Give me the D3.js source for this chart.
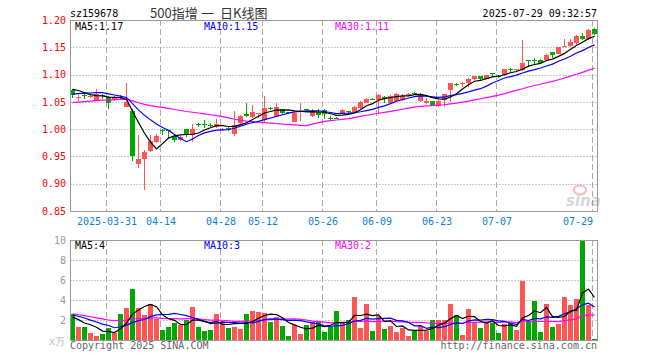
<!DOCTYPE html>
<html>
<head>
<meta charset="utf-8">
<script src="https://cdn.jsdelivr.net/npm/d3@7"></script>
<style>
body { margin: 0; background: #fff; }
svg { display: block; }
text { font-family: "DejaVu Sans Mono", monospace; font-size: 10px; }
</style>
</head>
<body>
<svg></svg>
<script>
// trading days shown, one candle each
var dates = [
    "2025-03-21",
    "2025-03-24", "2025-03-25", "2025-03-26", "2025-03-27", "2025-03-28",
    "2025-03-31", "2025-04-01", "2025-04-02", "2025-04-03",
    "2025-04-07", "2025-04-08", "2025-04-09", "2025-04-10", "2025-04-11",
    "2025-04-14", "2025-04-15", "2025-04-16", "2025-04-17", "2025-04-18",
    "2025-04-21", "2025-04-22", "2025-04-23", "2025-04-24", "2025-04-25",
    "2025-04-28", "2025-04-29", "2025-04-30",
    "2025-05-06", "2025-05-07", "2025-05-08", "2025-05-09",
    "2025-05-12", "2025-05-13", "2025-05-14", "2025-05-15", "2025-05-16",
    "2025-05-19", "2025-05-20", "2025-05-21", "2025-05-22", "2025-05-23",
    "2025-05-26", "2025-05-27", "2025-05-28", "2025-05-29", "2025-05-30",
    "2025-06-03", "2025-06-04", "2025-06-05", "2025-06-06",
    "2025-06-09", "2025-06-10", "2025-06-11", "2025-06-12", "2025-06-13",
    "2025-06-16", "2025-06-17", "2025-06-18", "2025-06-19", "2025-06-20",
    "2025-06-23", "2025-06-24", "2025-06-25", "2025-06-26", "2025-06-27",
    "2025-06-30", "2025-07-01", "2025-07-02", "2025-07-03", "2025-07-04",
    "2025-07-07", "2025-07-08", "2025-07-09", "2025-07-10", "2025-07-11",
    "2025-07-14", "2025-07-15", "2025-07-16", "2025-07-17", "2025-07-18",
    "2025-07-21", "2025-07-22", "2025-07-23", "2025-07-24", "2025-07-25",
    "2025-07-28", "2025-07-29"
];

var opens = [
    1.072, 1.058, 1.063, 1.058, 1.052, 1.062, 1.058, 1.054, 1.059, 1.041,
    1.033, 0.937, 0.946, 0.960, 0.976, 0.999, 0.998, 0.988, 0.980, 1.000,
    0.990, 1.009, 1.009, 1.008, 1.004, 0.998, 1.002, 0.991, 1.012, 1.027,
    1.022, 1.028, 1.017, 1.039, 1.024, 1.036, 1.031, 1.014, 1.033, 1.036,
    1.024, 1.032, 1.035, 1.021, 1.021, 1.028, 1.033, 1.032, 1.038, 1.048,
    1.056, 1.053, 1.059, 1.048, 1.052, 1.053, 1.063, 1.067, 1.051, 1.047,
    1.051, 1.042, 1.053, 1.072, 1.083, 1.084, 1.085, 1.091, 1.097, 1.092,
    1.102, 1.098, 1.099, 1.111, 1.109, 1.108, 1.126, 1.126, 1.127, 1.127,
    1.141, 1.138, 1.151, 1.152, 1.158, 1.171, 1.165, 1.183
];
var highs = [
    1.074, 1.063, 1.066, 1.062, 1.073, 1.064, 1.060, 1.060, 1.062, 1.085,
    1.036, 0.989, 0.962, 0.990, 0.992, 1.000, 0.999, 0.990, 0.987, 1.001,
    1.009, 1.011, 1.017, 1.011, 1.018, 1.002, 1.004, 1.034, 1.026, 1.048,
    1.044, 1.030, 1.061, 1.041, 1.048, 1.037, 1.032, 1.031, 1.048, 1.037,
    1.036, 1.036, 1.036, 1.024, 1.023, 1.037, 1.034, 1.042, 1.051, 1.057,
    1.057, 1.064, 1.060, 1.063, 1.066, 1.065, 1.067, 1.068, 1.067, 1.057,
    1.052, 1.053, 1.065, 1.085, 1.085, 1.087, 1.093, 1.098, 1.098, 1.100,
    1.103, 1.099, 1.111, 1.112, 1.111, 1.163, 1.127, 1.130, 1.128, 1.137,
    1.142, 1.151, 1.166, 1.166, 1.172, 1.176, 1.183, 1.185
];
var lows = [
    1.057, 1.051, 1.056, 1.057, 1.051, 1.055, 1.037, 1.052, 1.055, 1.040,
    0.942, 0.929, 0.888, 0.959, 0.975, 0.989, 0.984, 0.977, 0.979, 0.985,
    0.976, 1.004, 1.002, 1.004, 1.003, 0.996, 0.997, 0.988, 1.010, 1.022,
    1.021, 1.021, 1.012, 1.035, 1.022, 1.027, 1.028, 1.013, 1.015, 1.032,
    1.023, 1.020, 1.019, 1.017, 1.018, 1.027, 1.028, 1.031, 1.037, 1.047,
    1.053, 1.028, 1.048, 1.047, 1.051, 1.052, 1.061, 1.062, 1.050, 1.046,
    1.042, 1.040, 1.040, 1.050, 1.079, 1.078, 1.078, 1.090, 1.089, 1.091,
    1.095, 1.094, 1.098, 1.104, 1.107, 1.107, 1.113, 1.118, 1.119, 1.126,
    1.131, 1.137, 1.150, 1.151, 1.152, 1.164, 1.164, 1.173
];
var closes = [
    1.063, 1.059, 1.060, 1.061, 1.064, 1.060, 1.048, 1.058, 1.058, 1.050,
    0.950, 0.945, 0.959, 0.978, 0.987, 0.998, 0.996, 0.980, 0.986, 0.991,
    1.000, 1.008, 1.007, 1.007, 1.010, 1.000, 1.000, 1.008, 1.024, 1.025,
    1.032, 1.029, 1.038, 1.038, 1.040, 1.030, 1.030, 1.030, 1.034, 1.035,
    1.032, 1.026, 1.028, 1.020, 1.020, 1.035, 1.032, 1.041, 1.050, 1.056,
    1.055, 1.063, 1.055, 1.061, 1.064, 1.061, 1.064, 1.066, 1.064, 1.052,
    1.043, 1.052, 1.064, 1.084, 1.082, 1.085, 1.091, 1.097, 1.091, 1.099,
    1.101, 1.097, 1.110, 1.110, 1.110, 1.122, 1.125, 1.125, 1.121, 1.136,
    1.135, 1.150, 1.152, 1.159, 1.171, 1.165, 1.182, 1.174
];
// volume, in 10k
var volumes = [
    2.60, 1.33, 1.33, 0.73, 0.43, 0.63, 1.23, 0.73, 2.63, 3.23,
    5.13, 3.23, 2.53, 3.63, 2.13, 1.03, 1.33, 1.73, 1.53, 2.03,
    3.33, 1.33, 0.93, 1.03, 2.63, 1.93, 1.23, 1.33, 1.13, 2.63,
    2.93, 2.83, 2.73, 1.83, 2.33, 1.43, 0.43, 1.53, 0.63, 1.53,
    1.83, 1.83, 0.83, 1.33, 2.93, 1.73, 2.03, 4.33, 1.23, 3.63,
    0.93, 2.43, 1.13, 1.43, 0.83, 1.23, 0.43, 0.93, 1.43, 0.93,
    2.03, 2.03, 2.03, 3.63, 2.53, 0.53, 3.13, 1.83, 1.23, 1.73,
    1.73, 0.73, 1.63, 1.73, 1.03, 5.93, 1.93, 3.93, 0.83, 3.63,
    1.33, 1.63, 4.33, 3.53, 4.13, 9.93, 3.53, 0.13
];
// sessions before the window, only feed the moving averages
var earlyCloses = [
    1.032, 1.035, 1.030, 1.038, 1.036, 1.041, 1.039, 1.044, 1.042, 1.040,
    1.046, 1.043, 1.048, 1.045, 1.042, 1.047, 1.044, 1.040, 1.045, 1.043,
    1.048, 1.052, 1.058, 1.056, 1.061, 1.070, 1.080, 1.078, 1.074
];
var earlyVolumes = [
    4.5, 3.8, 4.2, 3.6, 4.0, 4.5, 2.3, 1.9, 2.4, 2.0,
    1.8, 2.2, 2.5, 1.9, 2.1, 2.3, 1.8, 2.0, 2.2, 1.9,
    2.5, 3.1, 2.8, 2.4, 2.7, 2.6, 3.0, 1.6, 1.64
];

var priceTicks = [0.85, 0.90, 0.95, 1.00, 1.05, 1.10, 1.15, 1.20];
var volumeTicks = [2, 4, 6, 8, 10];
var tickDates = ["2025-03-31", "2025-04-14", "2025-04-28", "2025-05-12", "2025-05-26",
    "2025-06-09", "2025-06-23", "2025-07-07", "2025-07-29"];

var width = 660,
    height = 360,
    plotLeft = 70.5,
    plotRight = 597.5,
    red = "#ff5555",
    green = "#00a800";

var svg = d3.select("svg")
    .attr("width", width)
    .attr("height", height);

var x = d3.scaleLinear().domain([0, dates.length - 1]).range([72.5, 594.5]);
var y = d3.scaleLinear().domain([0.85, 1.20]).range([211, 20]);
var yv = d3.scaleLinear().domain([0, 10]).range([340, 240]);

function movingAvg(series, early, n) {
    var all = early.concat(series);
    return series.map((d, i) => {
        var end = i + early.length + 1;
        return d3.mean(all.slice(end - n, end));
    });
}

var ma5 = movingAvg(closes, earlyCloses, 5),
    ma10 = movingAvg(closes, earlyCloses, 10),
    ma30 = movingAvg(closes, earlyCloses, 30),
    vma5 = movingAvg(volumes, earlyVolumes, 5),
    vma10 = movingAvg(volumes, earlyVolumes, 10),
    vma30 = movingAvg(volumes, earlyVolumes, 30);

var tickIdx = tickDates.map(d => dates.indexOf(d));

// header
svg.append("text").attr("x", 70).attr("y", 16.5).attr("fill", "#000").text("sz159678");
var title = svg.append("g").attr("fill", "#333")
    .style("font-family", "'Noto Sans CJK SC', sans-serif").style("font-size", "13px");
title.append("text").attr("x", 150).attr("y", 17.5).style("font-family", "inherit").style("font-size", "inherit").text("500指增");
title.append("text").attr("x", 201).attr("y", 17.5).style("font-family", "inherit").style("font-size", "inherit").text("一");
title.append("text").attr("x", 220).attr("y", 17.5).style("font-family", "inherit").style("font-size", "inherit").text("日K线图");
svg.append("text").attr("x", 597).attr("y", 16.5).attr("text-anchor", "end")
    .attr("fill", "#000").text("2025-07-29 09:32:57");

// grid
var grid = svg.append("g");
grid.selectAll(".hp").data(priceTicks.slice(1, -1)).enter().append("line")
    .attr("x1", plotLeft).attr("x2", plotRight)
    .attr("y1", d => Math.round(y(d)) + 0.5).attr("y2", d => Math.round(y(d)) + 0.5)
    .attr("stroke", "#999").attr("stroke-dasharray", "1,2");
grid.selectAll(".hv").data(volumeTicks.slice(0, -1)).enter().append("line")
    .attr("x1", plotLeft).attr("x2", plotRight)
    .attr("y1", d => yv(d) + 0.5).attr("y2", d => yv(d) + 0.5)
    .attr("stroke", "#999").attr("stroke-dasharray", "1,2");
[[20, 211], [240, 340]].forEach(r => {
    grid.selectAll(null).data(tickIdx).enter().append("line")
        .attr("x1", d => x(d) - 2).attr("x2", d => x(d) - 2)
        .attr("y1", r[0]).attr("y2", r[1])
        .attr("stroke", "#aaa").attr("stroke-dasharray", "6,3");
});

// axes
var yAxis = svg.append("g")
    .attr("transform", "translate(66,0)")
    .call(d3.axisLeft(y).tickValues(priceTicks).tickSize(0).tickPadding(0).tickFormat(d3.format(".2f")));
yAxis.select(".domain").remove();
yAxis.selectAll("text").attr("fill", "#f00");

var vAxis = svg.append("g")
    .attr("transform", "translate(66,0)")
    .call(d3.axisLeft(yv).tickValues(volumeTicks).tickSize(0).tickPadding(0));
vAxis.select(".domain").remove();
vAxis.selectAll("text").attr("fill", "#999");
svg.append("text").attr("x", 49).attr("y", 345).attr("fill", "#bbb").text("x万");

var xAxis = svg.append("g")
    .attr("transform", "translate(-2,211)")
    .call(d3.axisBottom(x).tickValues(tickIdx).tickSize(0).tickPadding(7)
        .tickFormat((d, i) => i == 0 ? dates[d] : dates[d].slice(5)));
xAxis.select(".domain").remove();
xAxis.selectAll("text").attr("fill", "#0a80dc");
xAxis.selectAll("text").filter((d, i) => i == tickIdx.length - 1).attr("text-anchor", "end");

// watermark
var wm = svg.append("g").attr("opacity", 0.35);
wm.append("ellipse").attr("cx", 580).attr("cy", 190).attr("rx", 6).attr("ry", 4.5)
    .attr("fill", "none").attr("stroke", "#e33").attr("stroke-width", 2);
wm.append("text").attr("x", 566).attr("y", 206).attr("fill", "#888")
    .style("font-family", "'DejaVu Sans', sans-serif").style("font-size", "15px")
    .style("font-style", "italic").style("font-weight", "bold").text("sina");

// candles
var candles = svg.append("g").attr("shape-rendering", "crispEdges");
var idx = d3.range(dates.length);
candles.selectAll(".wick").data(idx).enter().append("line")
    .attr("x1", i => x(i)).attr("x2", i => x(i))
    .attr("y1", i => y(highs[i])).attr("y2", i => y(lows[i]))
    .attr("stroke", i => closes[i] >= opens[i] ? red : green);
candles.selectAll(".body").data(idx).enter().append("rect")
    .attr("x", i => x(i) - 2.5)
    .attr("width", 5)
    .attr("y", i => y(Math.max(opens[i], closes[i])))
    .attr("height", i => Math.max(1, Math.abs(y(opens[i]) - y(closes[i]))))
    .attr("fill", i => closes[i] >= opens[i] ? red : green);

// volume bars
svg.append("g").attr("shape-rendering", "crispEdges")
    .selectAll("rect").data(volumes).enter().append("rect")
    .attr("x", (d, i) => x(i) - 2.5)
    .attr("width", 5)
    .attr("y", d => yv(d))
    .attr("height", d => yv(0) - yv(d))
    .attr("fill", (d, i) => closes[i] >= opens[i] ? red : green);

// moving average lines
var priceLine = d3.line().x((d, i) => x(i)).y(d => y(d));
var volLine = d3.line().x((d, i) => x(i)).y(d => yv(d));
var maColors = ["#000", "#00f", "#f0f"];
[ma30, ma10, ma5].forEach((s, k) => {
    svg.append("path").attr("d", priceLine(s))
        .attr("fill", "none").attr("stroke", maColors[2 - k]).attr("stroke-width", 1.2);
});
[vma30, vma10, vma5].forEach((s, k) => {
    svg.append("path").attr("d", volLine(s))
        .attr("fill", "none").attr("stroke", maColors[2 - k]).attr("stroke-width", 1.2);
});

// frames
svg.append("rect").attr("x", plotLeft).attr("y", 20.5).attr("width", plotRight - plotLeft).attr("height", 191)
    .attr("fill", "none").attr("stroke", "#999");
svg.append("rect").attr("x", plotLeft).attr("y", 240.5).attr("width", plotRight - plotLeft).attr("height", 100)
    .attr("fill", "none").attr("stroke", "#999");

// legends
var last = dates.length - 1;
var legX = [75, 204, 335];
var priceMA = [ma5, ma10, ma30], volMA = [vma5, vma10, vma30], names = ["MA5:", "MA10:", "MA30:"];
names.forEach((n, k) => {
    svg.append("text").attr("x", legX[k]).attr("y", 30).attr("fill", maColors[k])
        .text(n + priceMA[k][last].toFixed(2));
    svg.append("text").attr("x", legX[k]).attr("y", 249).attr("fill", maColors[k])
        .text(n + Math.round(volMA[k][last]));
});

// footer
svg.append("text").attr("x", 70).attr("y", 348.5).attr("fill", "#666").text("Copyright 2025 SINA.COM");
svg.append("text").attr("x", 597).attr("y", 348.5).attr("text-anchor", "end").attr("fill", "#666")
    .text("http://finance.sina.com.cn");
</script>
</body>
</html>
